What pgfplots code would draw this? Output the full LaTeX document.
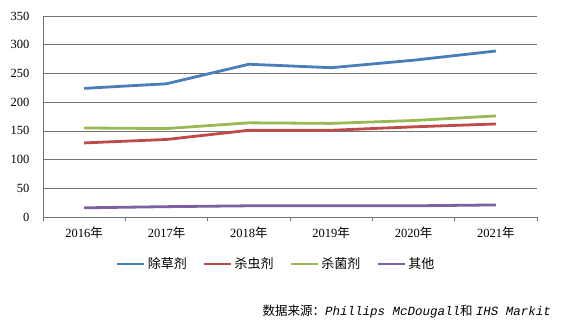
\documentclass[border=0pt]{standalone}
\usepackage{pgfplots}
\pgfplotsset{compat=1.18}
\usepackage{fontspec}
\setmainfont{Liberation Serif}
\newfontfamily\cjk{Noto Sans CJK SC}
\newfontfamily\mono{Liberation Mono}
\definecolor{cblue}{HTML}{4A7EBB}
\definecolor{cred}{HTML}{BE4B48}
\definecolor{cgreen}{HTML}{98B954}
\definecolor{cpurple}{HTML}{7D60A0}
\begin{document}
\begin{tikzpicture}
\path[use as bounding box] (0pt,0pt) rectangle (561pt,332pt);
\begin{axis}[
  at={(43pt,115pt)}, anchor=south west,
  scale only axis, width=494pt, height=201pt,
  xmin=-0.5, xmax=5.5, ymin=0, ymax=350,
  ytick={0,50,...,350},
  xtick={0,...,5},
  xticklabels={2016{\cjk 年},2017{\cjk 年},2018{\cjk 年},2019{\cjk 年},2020{\cjk 年},2021{\cjk 年}},
  minor xtick={-0.5,0.5,...,5.5},
  axis x line*=bottom, axis y line*=left,
  axis line style={draw=gray!90!black, line width=0.7pt},
  ymajorgrids, major grid style={draw=gray!90!black, line width=0.7pt},
  major tick length=0pt, minor tick length=4pt, tick align=outside,
  minor tick style={draw=gray!90!black, line width=0.7pt},
  tick label style={font=\fontsize{12.5}{14}\selectfont},
  /pgf/number format/assume math mode=true,
  xticklabel style={yshift=-6pt},
  yticklabel style={xshift=-10pt},
  every axis plot/.append style={line width=2.8pt, no markers},
  legend columns=4,
  legend style={at={(0.472,-0.234)}, anchor=center, draw=none, fill=none,
    font=\cjk\fontsize{13}{15}\selectfont,
    /tikz/every even column/.append style={column sep=14pt}},
  legend cell align=left,
  legend image code/.code={\draw[#1] (0pt,0pt) -- (27pt,0pt);},
]
\addplot[cblue] coordinates {(0,224) (1,232) (2,266) (3,260) (4,273) (5,289)};
\addlegendentry{除草剂}
\addplot[cred] coordinates {(0,129) (1,135) (2,151) (3,151) (4,157) (5,162)};
\addlegendentry{杀虫剂}
\addplot[cgreen] coordinates {(0,155) (1,154) (2,164) (3,163) (4,168) (5,176)};
\addlegendentry{杀菌剂}
\addplot[cpurple] coordinates {(0,16) (1,18) (2,19.5) (3,19.5) (4,19.5) (5,21)};
\addlegendentry{其他}
\end{axis}
\node[anchor=east, inner sep=0pt, font=\fontsize{12.5}{14}\selectfont] at (551pt,20pt)
  {{\cjk 数据来源：}{\mono\itshape Phillips McDougall}{\cjk 和} {\mono\itshape IHS Markit}};
\end{tikzpicture}
\end{document}
